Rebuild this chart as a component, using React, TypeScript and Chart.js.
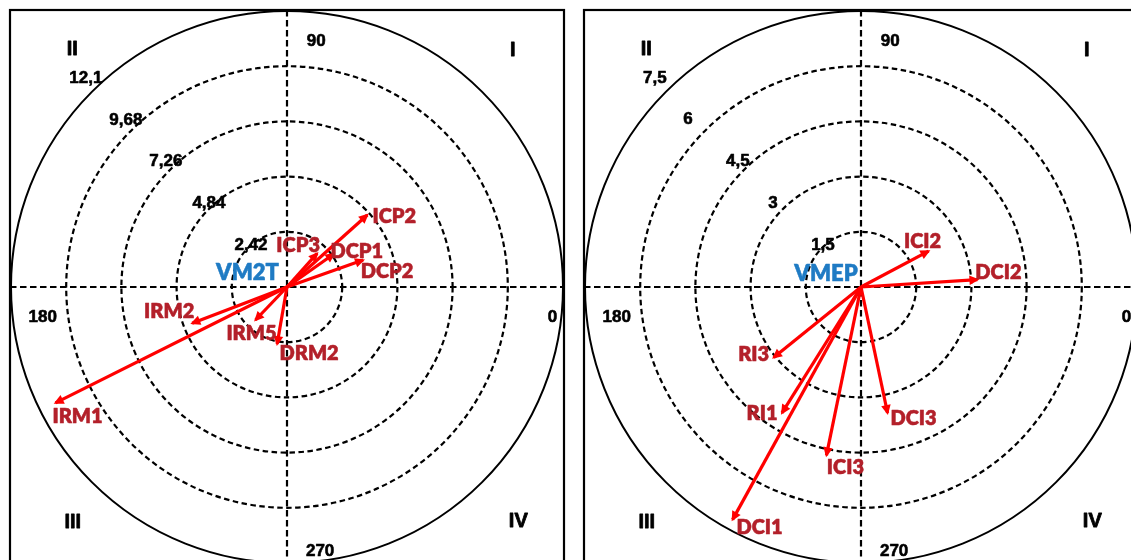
import React, { useEffect, useRef } from "react";
import { Chart, registerables } from "chart.js";

Chart.register(...registerables);

// ---------- Data: left panel ----------
const LEFT_TITLE = "VM2T";
const LEFT_NAMES = ["ICP2", "ICP3", "DCP1", "DCP2", "IRM1", "IRM2", "IRM5", "DRM2"];
const LEFT_MAGNITUDES = [4.73, 1.98, 2.51, 3.54, 11.35, 4.45, 2.0, 2.54];
const LEFT_ANGLES = [41.9, 48.1, 35.2, 19.5, 206.6, 200.9, 226.3, 260.2];
const LEFT_RINGS = [2.42, 4.84, 7.26, 9.68, 12.1];
const LEFT_RING_LABELS = ["2,42", "4,84", "7,26", "9,68", "12,1"];

// ---------- Data: right panel ----------
const RIGHT_TITLE = "VMEP";
const RIGHT_NAMES = ["ICI2", "DCI2", "RI3", "RI1", "ICI3", "DCI3", "DCI1"];
const RIGHT_MAGNITUDES = [2.08, 3.17, 3.05, 4.04, 4.67, 3.5, 7.22];
const RIGHT_ANGLES = [28, 3.6, 218.9, 237.9, 258.4, 281.9, 241.1];
const RIGHT_RINGS = [1.5, 3, 4.5, 6, 7.5];
const RIGHT_RING_LABELS = ["1,5", "3", "4,5", "6", "7,5"];

// ---------- Shared labels ----------
const AXIS_LABELS = ["0", "90", "180", "270"];
const QUADRANT_LABELS = ["I", "II", "III", "IV"];

// ---------- Layout / style (positions kept apart from data) ----------
const LEFT_LABEL_OFFSETS = [[27, 1], [-19, -9], [23, -3], [24, 11], [22, 13], [-23, -12], [-4, 13], [32, 9]];
const RIGHT_LABEL_OFFSETS = [[-6, -10], [21, -8], [-20, -4], [-20, 0], [19, 11], [26, 5], [27, 7]];
const LEFT_RING_LABEL_OFFSETS = [[3, -4], [0, -7], [-4, -10], [-5, -12], [-6, -15]];
const RIGHT_RING_LABEL_OFFSETS = [[1, -4], [-10, -7], [-6, -10], [-17, -13], [-11, -15]];
const LEFT_TITLE_OFFSET = [-39.5, -14.7];
const RIGHT_TITLE_OFFSET = [-35, -13.7];
// normalised (fraction of outer radius, y up)
const AXIS_LABEL_POS = [[0.962, -0.106], [0.106, 0.895], [-0.885, -0.106], [0.12, -0.954]];
const QUADRANT_LABEL_POS = [[0.818, 0.864], [-0.778, 0.867], [-0.776, -0.847], [0.838, -0.844]];

const ARROW_COLOR = "#ff0000";
const LABEL_COLOR = "#b3202a";
const TITLE_COLOR = "#1f7bc4";
const LABEL_FONT = "Lato, 'Open Sans', sans-serif";
const NUM_FONT = "'Liberation Sans', Arial, sans-serif";

type PanelCfg = {
  title: string;
  names: string[];
  mags: number[];
  angles: number[];
  rings: number[];
  ringLabels: string[];
  labelOffsets: number[][];
  ringLabelOffsets: number[][];
  titleOffset: number[];
};

function drawCentered(
  ctx: CanvasRenderingContext2D,
  text: string,
  x: number,
  y: number,
  size: number,
  family: string,
  color: string,
  weight: string,
  cap: number,
  thicken: number
) {
  ctx.font = `${weight} ${size}px ${family}`;
  ctx.fillStyle = color;
  ctx.strokeStyle = color;
  ctx.textAlign = "center";
  ctx.textBaseline = "alphabetic";
  const yy = y + (cap * size) / 2;
  ctx.fillText(text, x, yy);
  if (thicken > 0) {
    ctx.lineWidth = thicken;
    ctx.setLineDash([]);
    ctx.lineJoin = "round";
    ctx.strokeText(text, x, yy);
  }
}

function makePlugin(cfg: PanelCfg) {
  const maxV = cfg.rings[cfg.rings.length - 1];
  return {
    id: "polarDecor",
    beforeDraw(chart: any) {
      const ctx = chart.ctx as CanvasRenderingContext2D;
      ctx.save();
      ctx.fillStyle = "#ffffff";
      ctx.fillRect(0, 0, chart.width, chart.height);
      ctx.restore();
    },
    beforeDatasetsDraw(chart: any) {
      const ctx = chart.ctx as CanvasRenderingContext2D;
      const xs = chart.scales.x;
      const ys = chart.scales.y;
      const cx = xs.getPixelForValue(0);
      const cy = ys.getPixelForValue(0);
      const R = xs.getPixelForValue(maxV) - cx;
      ctx.save();
      // frame
      ctx.strokeStyle = "#000";
      ctx.lineWidth = 2.2;
      ctx.setLineDash([]);
      ctx.strokeRect(cx - R - 1, cy - R - 1, 2 * R + 2, 2 * R + 2);
      // rings
      cfg.rings.forEach((v, i) => {
        const r = xs.getPixelForValue(v) - cx;
        const outer = i === cfg.rings.length - 1;
        ctx.beginPath();
        ctx.setLineDash(outer ? [] : [5.5, 3.5]);
        ctx.lineWidth = outer ? 2 : 2.2;
        ctx.strokeStyle = "#000";
        ctx.arc(cx, cy, r, 0, Math.PI * 2);
        ctx.stroke();
      });
      // crosshair
      ctx.setLineDash([6.5, 3.5]);
      ctx.lineWidth = 2.2;
      ctx.beginPath();
      ctx.moveTo(cx - R - 1, cy);
      ctx.lineTo(cx + R + 1, cy);
      ctx.moveTo(cx, cy - R - 1);
      ctx.lineTo(cx, cy + R + 1);
      ctx.stroke();
      ctx.setLineDash([]);
      // ring labels
      cfg.rings.forEach((v, i) => {
        const r = xs.getPixelForValue(v) - cx;
        const px = cx - r * Math.SQRT1_2 + cfg.ringLabelOffsets[i][0];
        const py = cy - r * Math.SQRT1_2 + cfg.ringLabelOffsets[i][1];
        drawCentered(ctx, cfg.ringLabels[i], px, py, 17, NUM_FONT, "#000", "bold", 0.716, 0.6);
      });
      // axis labels
      AXIS_LABELS.forEach((t, i) => {
        drawCentered(ctx, t, cx + AXIS_LABEL_POS[i][0] * R, cy - AXIS_LABEL_POS[i][1] * R, 17, NUM_FONT, "#000", "bold", 0.716, 0.6);
      });
      QUADRANT_LABELS.forEach((t, i) => {
        drawCentered(ctx, t, cx + QUADRANT_LABEL_POS[i][0] * R, cy - QUADRANT_LABEL_POS[i][1] * R, 20, NUM_FONT, "#000", "bold", 0.716, 0.8);
      });
      ctx.restore();
    },
    afterDatasetsDraw(chart: any) {
      const ctx = chart.ctx as CanvasRenderingContext2D;
      const xs = chart.scales.x;
      const ys = chart.scales.y;
      const cx = xs.getPixelForValue(0);
      const cy = ys.getPixelForValue(0);
      ctx.save();
      chart.data.datasets.forEach((ds: any, i: number) => {
        const meta = chart.getDatasetMeta(i);
        const p0 = meta.data[0];
        const p1 = meta.data[1];
        const dx = p1.x - p0.x;
        const dy = p1.y - p0.y;
        const len = Math.hypot(dx, dy) || 1;
        const ux = dx / len;
        const uy = dy / len;
        const tipX = p1.x + ux * 2;
        const tipY = p1.y + uy * 2;
        const L = 10;
        const W = 4.8;
        ctx.beginPath();
        ctx.moveTo(tipX, tipY);
        ctx.lineTo(tipX - ux * L - uy * W, tipY - uy * L + ux * W);
        ctx.lineTo(tipX - ux * L + uy * W, tipY - uy * L - ux * W);
        ctx.closePath();
        ctx.fillStyle = ARROW_COLOR;
        ctx.fill();
      });
      chart.data.datasets.forEach((ds: any, i: number) => {
        const meta = chart.getDatasetMeta(i);
        const p1 = meta.data[1];
        const off = cfg.labelOffsets[i];
        drawCentered(ctx, ds.label, p1.x + off[0], p1.y + off[1], 20, LABEL_FONT, LABEL_COLOR, "800", 0.72, 0.5);
      });
      drawCentered(ctx, cfg.title, cx + cfg.titleOffset[0], cy + cfg.titleOffset[1], 22, LABEL_FONT, TITLE_COLOR, "800", 0.72, 0.5);
      ctx.restore();
    },
  };
}

function buildChart(canvas: HTMLCanvasElement, cfg: PanelCfg) {
  const maxV = cfg.rings[cfg.rings.length - 1];
  const datasets = cfg.names.map((name, i) => {
    const a = (cfg.angles[i] * Math.PI) / 180;
    return {
      label: name,
      data: [
        { x: 0, y: 0 },
        { x: cfg.mags[i] * Math.cos(a), y: cfg.mags[i] * Math.sin(a) },
      ],
      showLine: true,
      borderColor: ARROW_COLOR,
      backgroundColor: ARROW_COLOR,
      borderWidth: 3.2,
      pointRadius: 0,
      pointHoverRadius: 0,
      fill: false,
    };
  });
  return new Chart(canvas, {
    type: "scatter",
    data: { datasets },
    options: {
      animation: false,
      responsive: false,
      maintainAspectRatio: false,
      devicePixelRatio: 1,
      events: [],
      layout: { padding: 11 },
      plugins: { legend: { display: false }, tooltip: { enabled: false } },
      scales: {
        x: { type: "linear", min: -maxV, max: maxV, display: false },
        y: { type: "linear", min: -maxV, max: maxV, display: false },
      },
    } as any,
    plugins: [makePlugin(cfg)],
  });
}

export default function App() {
  const leftRef = useRef<HTMLCanvasElement>(null);
  const rightRef = useRef<HTMLCanvasElement>(null);

  useEffect(() => {
    const left = buildChart(leftRef.current!, {
      title: LEFT_TITLE,
      names: LEFT_NAMES,
      mags: LEFT_MAGNITUDES,
      angles: LEFT_ANGLES,
      rings: LEFT_RINGS,
      ringLabels: LEFT_RING_LABELS,
      labelOffsets: LEFT_LABEL_OFFSETS,
      ringLabelOffsets: LEFT_RING_LABEL_OFFSETS,
      titleOffset: LEFT_TITLE_OFFSET,
    });
    const right = buildChart(rightRef.current!, {
      title: RIGHT_TITLE,
      names: RIGHT_NAMES,
      mags: RIGHT_MAGNITUDES,
      angles: RIGHT_ANGLES,
      rings: RIGHT_RINGS,
      ringLabels: RIGHT_RING_LABELS,
      labelOffsets: RIGHT_LABEL_OFFSETS,
      ringLabelOffsets: RIGHT_RING_LABEL_OFFSETS,
      titleOffset: RIGHT_TITLE_OFFSET,
    });
    const fonts = (document as any).fonts;
    if (fonts && fonts.load) {
      Promise.all([
        fonts.load("800 20px Lato"),
        fonts.load("bold 17px 'Liberation Sans'"),
      ])
        .then(() => {
          left.draw();
          right.draw();
        })
        .catch(() => {});
    }
    return () => {
      left.destroy();
      right.destroy();
    };
  }, []);

  return (
    <div style={{ position: "fixed", left: 0, top: 0, width: "100vw", height: "100vh", overflow: "hidden", background: "#fff" }}>
      <canvas ref={leftRef} width={574} height={574} style={{ position: "absolute", left: 0, top: 0 }} />
      <canvas ref={rightRef} width={574} height={574} style={{ position: "absolute", left: 574, top: 0 }} />
    </div>
  );
}
